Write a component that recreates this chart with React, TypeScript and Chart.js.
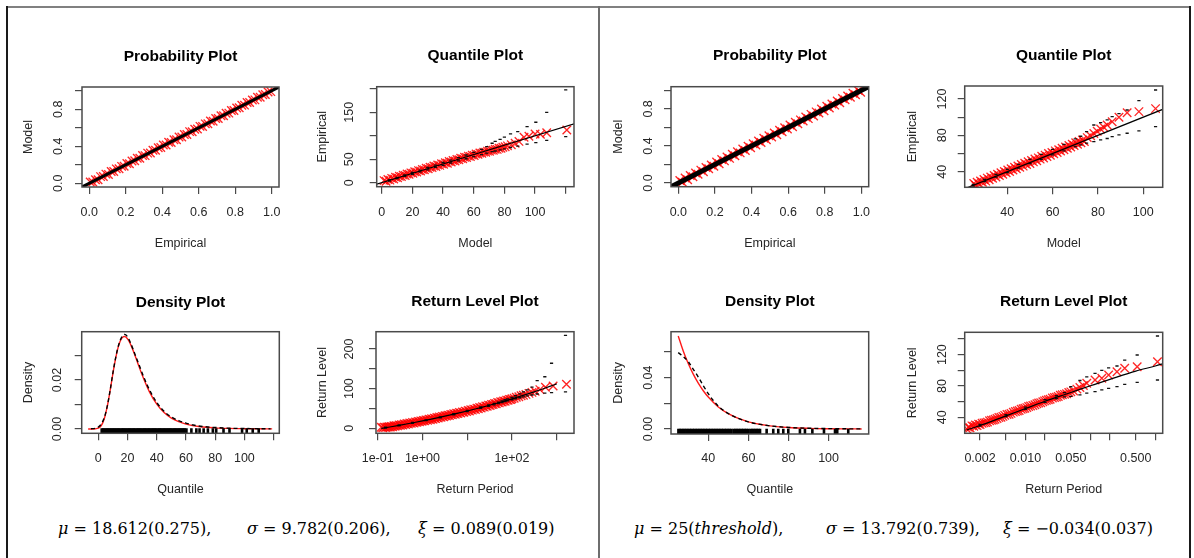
import React, { useEffect, useRef } from "react";
import { Chart, registerables } from "chart.js";

Chart.register(...registerables);

const SANS = "'Liberation Sans', Arial, Helvetica, sans-serif";
const TL = 7;
const RED = "rgba(255,0,0,0.85)";
const AXIS = "#4a4a4a";
const TXT = "#262626";
const TITLE_SIZE = 15.5;
const TICK_SIZE = 12.5;
const AXT_SIZE = 12.5;

// ================= GEV fit (left panel) =================
const probTicks = [0, 0.2, 0.4, 0.6, 0.8, 1.0];
const probXTickText = ["0.0", "0.2", "0.4", "0.6", "0.8", "1.0"];
const probYTickText = ["0.0", "", "0.4", "", "0.8", ""];
const probLine = [-0.05, 1.05];

const gevProbEmpirical = [0.005, 0.019, 0.034, 0.048, 0.062, 0.077, 0.091, 0.105, 0.120, 0.134, 0.148, 0.163, 0.177, 0.191, 0.206, 0.220, 0.234, 0.249, 0.263, 0.277, 0.292, 0.306, 0.320, 0.335, 0.349, 0.363, 0.378, 0.392, 0.406, 0.421, 0.435, 0.449, 0.464, 0.478, 0.492, 0.507, 0.521, 0.535, 0.550, 0.564, 0.578, 0.593, 0.607, 0.621, 0.636, 0.650, 0.664, 0.679, 0.693, 0.707, 0.722, 0.736, 0.750, 0.765, 0.779, 0.793, 0.808, 0.822, 0.836, 0.851, 0.865, 0.879, 0.894, 0.908, 0.922, 0.937, 0.951, 0.965, 0.980, 0.995];
const gevProbModel = [0.013, 0.013, 0.038, 0.039, 0.072, 0.074, 0.099, 0.096, 0.128, 0.128, 0.156, 0.157, 0.183, 0.184, 0.214, 0.212, 0.240, 0.243, 0.271, 0.270, 0.300, 0.299, 0.326, 0.328, 0.357, 0.356, 0.384, 0.386, 0.413, 0.414, 0.443, 0.441, 0.470, 0.471, 0.500, 0.500, 0.528, 0.528, 0.558, 0.557, 0.584, 0.586, 0.615, 0.614, 0.642, 0.643, 0.672, 0.671, 0.699, 0.700, 0.729, 0.729, 0.756, 0.758, 0.787, 0.786, 0.814, 0.815, 0.843, 0.844, 0.873, 0.872, 0.900, 0.901, 0.930, 0.930, 0.957, 0.958, 0.986, 0.990];

const gevQqXTicks = [0, 20, 40, 60, 80, 100, 120];
const gevQqXTickText = ["0", "20", "40", "60", "80", "100", ""];
const gevQqYTicks = [0, 50, 100, 150, 200];
const gevQqYTickText = ["0", "50", "", "150", ""];
const gevQqLine = [-5, 130];
const gevQqModel = [1.5, 2.8, 4.0, 5.3, 6.5, 7.8, 9.0, 10.3, 11.5, 12.8, 14.0, 15.3, 16.5, 17.8, 19.0, 20.3, 21.5, 22.8, 24.0, 25.3, 26.5, 27.8, 29.0, 30.3, 31.5, 32.8, 34.0, 35.3, 36.5, 37.8, 39.0, 40.3, 41.5, 42.8, 44.0, 45.3, 46.5, 47.8, 49.0, 50.3, 51.5, 52.8, 54.0, 55.3, 56.5, 57.8, 59.0, 60.3, 61.5, 62.8, 64.0, 65.3, 66.5, 67.8, 69.0, 70.3, 71.5, 72.8, 74.0, 75.3, 76.5, 77.8, 79.0, 80.5, 82, 84.5, 87, 89.5, 92.8, 96, 100, 103.5, 107.6, 120.7];
const gevQqEmpirical = [4.5, 3.0, 6.8, 5.5, 9.2, 8.0, 11.5, 10.6, 13.8, 13.0, 16.1, 15.4, 18.5, 17.9, 21.0, 20.2, 23.4, 22.6, 25.8, 25.0, 28.2, 27.4, 30.6, 29.8, 33.0, 32.2, 35.4, 34.5, 37.8, 36.9, 40.2, 39.2, 42.6, 41.6, 45.0, 44.0, 47.3, 46.4, 49.6, 48.8, 52.0, 51.1, 54.2, 53.5, 56.6, 55.8, 58.8, 58.1, 61.0, 60.4, 63.2, 62.6, 65.2, 64.8, 67.3, 66.9, 69.4, 69.0, 71.4, 71.0, 73.4, 73.2, 75.5, 76.5, 78.5, 81, 84, 88, 96.8, 99, 103.8, 103, 106.6, 112.4];
const gevQqCiModel = [5, 10, 15, 20, 25, 30, 35, 40, 45, 50, 55, 60, 65, 68.5, 72, 74, 77.2, 80, 84, 88.7, 94.8, 100.5, 107.6, 120];
const gevQqUpper = [6.5, 11.5, 16.5, 22, 27, 32.5, 37.5, 43, 48, 53.5, 59, 64.5, 71, 76.8, 84, 88, 92.3, 97, 104, 108.8, 119.5, 128.8, 150, 197.6];
const gevQqLower = [3.5, 8.5, 13.5, 18, 23, 27.5, 32.5, 37, 42, 46.5, 51, 55.5, 60, 63, 66, 67.5, 70, 72, 75, 78, 82, 85.4, 90, 98];

const gevDensXTicks = [0, 20, 40, 60, 80, 100, 120];
const gevDensXTickText = ["0", "20", "40", "60", "80", "100", ""];
const gevDensYTicks = [0, 0.01, 0.02, 0.03];
const gevDensYTickText = ["0.00", "", "0.02", ""];
const gevDensX = [-7, -3, 0, 1.5, 3, 4.5, 6, 7.5, 9, 10.5, 12, 13.5, 15, 16.5, 18, 19.5, 21, 24, 27, 30, 35, 40, 45, 50, 55, 60, 70, 80, 90, 100, 110, 119];
const gevDensModel = [0, 0.00001, 0.00032, 0.0010, 0.00248, 0.00508, 0.00889, 0.01373, 0.01912, 0.02450, 0.02932, 0.03319, 0.03589, 0.03738, 0.03775, 0.03716, 0.03583, 0.03175, 0.02684, 0.02199, 0.01513, 0.01013, 0.00672, 0.00446, 0.00297, 0.00199, 0.00092, 0.000445, 0.000223, 0.000115, 0.00006, 0.00003];
const gevDensEmpX = [-5, -2, 0, 2, 4, 6, 8, 10, 12, 14, 16, 18, 20, 22, 24, 26, 28, 30, 33, 36, 40, 45, 50, 55, 60, 65, 70, 75, 80, 90, 100, 110, 118];
const gevDensEmp = [0.0001, 0.0003, 0.0008, 0.002, 0.0045, 0.009, 0.0155, 0.023, 0.0295, 0.0345, 0.0375, 0.0386, 0.0376, 0.0352, 0.0322, 0.029, 0.026, 0.0228, 0.0185, 0.0148, 0.0108, 0.0072, 0.0049, 0.0034, 0.0024, 0.0016, 0.0011, 0.0008, 0.0006, 0.0003, 0.0002, 0.0001, 0.00005];
const gevRug = [2.3, 3.2, 4.0, 4.9, 5.7, 6.6, 7.5, 8.3, 9.1, 10.0, 10.9, 11.7, 12.5, 13.4, 14.2, 15.1, 16.0, 16.8, 17.6, 18.5, 19.3, 20.2, 21.1, 21.9, 22.7, 23.6, 24.4, 25.3, 26.2, 27.0, 27.8, 28.7, 29.5, 30.4, 31.3, 32.1, 32.9, 33.8, 34.6, 35.5, 36.4, 37.2, 38.0, 38.9, 39.7, 40.6, 41.5, 42.3, 43.1, 44.0, 44.8, 45.7, 46.6, 47.4, 48.2, 49.1, 49.9, 50.8, 51.7, 52.5, 53.3, 54.2, 55.0, 55.9, 56.8, 57.6, 58.4, 59.1, 60.3, 63.7, 67.1, 69.3, 72.1, 75.0, 78.4, 80.7, 85.7, 89.8, 98.4, 101.6, 105.7, 109.8];
const gevRugLevel = -0.00087;

const gevRlXTicks = [0.1, 1, 10, 100, 1000];
const gevRlXTickText = ["1e-01", "1e+00", "", "1e+02", ""];
const gevRlYTicks = [0, 50, 100, 150, 200];
const gevRlYTickText = ["0", "", "100", "", "200"];
const gevRlPeriod = [0.12, 0.16, 0.2, 0.3, 0.5, 0.7, 1, 1.4, 2, 3, 5, 7, 10, 15, 20, 30, 50, 70, 100, 150, 200, 300, 500, 700, 1000];
const gevRlLevel = [-0.3, 2.07, 3.94, 7.44, 12.04, 15.18, 18.61, 21.95, 25.6, 29.9, 35.54, 39.39, 43.61, 48.57, 52.18, 57.47, 64.39, 69.12, 74.29, 80.38, 84.83, 91.31, 99.8, 105.6, 111.96];
const gevRlEmpPeriod = [0.12, 0.13, 0.14, 0.15, 0.16, 0.17, 0.18, 0.19, 0.2, 0.215, 0.23, 0.245, 0.26, 0.28, 0.3, 0.32, 0.34, 0.365, 0.39, 0.42, 0.45, 0.485, 0.52, 0.56, 0.6, 0.65, 0.7, 0.75, 0.8, 0.86, 0.92, 0.98, 1.05, 1.12, 1.2, 1.3, 1.4, 1.5, 1.6, 1.72, 1.85, 1.97, 2.1, 2.25, 2.4, 2.6, 2.8, 3.0, 3.2, 3.45, 3.7, 4.0, 4.3, 4.65, 5, 5.4, 5.8, 6.2, 6.7, 7.2, 7.8, 8.4, 9, 9.7, 10.5, 11.2, 12, 13, 14, 15.2, 16.5, 17.7, 19, 20.5, 22, 24, 26, 28, 30, 32.5, 35, 38, 41, 44.5, 48, 52, 56, 60.5, 65, 70.5, 76, 82, 88, 94, 100, 112, 125, 142, 160, 180, 205, 240, 280, 330, 420, 560, 830, 1650];
const gevRlEmpLevel = [2.5, 1.2, 3.0, 1.9, 3.2, 3.0, 4.0, 2.9, 4.6, 4.0, 6.2, 5.0, 6.8, 6.1, 8.4, 7.4, 9.3, 8.2, 10.7, 9.6, 11.9, 10.9, 13.3, 12.4, 14.6, 13.6, 16.1, 15.0, 17.3, 16.4, 18.7, 17.5, 19.9, 18.9, 21.3, 20.5, 22.7, 21.4, 24.2, 22.9, 25.5, 24.4, 27.0, 25.9, 28.3, 27.8, 30.1, 29.2, 31.5, 30.8, 33.1, 32.5, 34.6, 34.1, 36.5, 35.6, 37.9, 37.1, 39.8, 38.7, 41.3, 40.4, 43.3, 42.1, 45.0, 43.8, 46.7, 45.8, 48.4, 47.5, 50.7, 49.3, 52.3, 51.4, 54.3, 53.4, 56.4, 55.6, 58.4, 57.6, 60.2, 59.9, 62.5, 62.0, 64.8, 64.1, 66.8, 66.4, 68.9, 68.4, 71.0, 70.5, 72.9, 72.4, 74.5, 75.8, 78.5, 79.6, 82, 83.4, 85.5, 88, 90.5, 93.5, 97.5, 103.5, 106.5, 111];
const gevRlCiPeriod = [0.15, 0.3, 0.6, 1.2, 2.5, 5, 10, 20, 30, 40, 50, 60, 70, 80, 100, 120, 150, 180, 220, 280, 366, 542, 766, 1570];
const gevRlUpper = [2.8, 8.8, 15, 21.4, 28.8, 36.8, 45, 54, 59, 63, 66, 69, 72, 74, 78, 82, 87, 92, 97, 104, 120, 130, 164, 234];
const gevRlLower = [0.6, 6.4, 12.4, 19.4, 26.6, 34.2, 42.2, 50.5, 55.5, 59, 62, 64.5, 67, 69, 72, 74.5, 77, 79, 81.5, 84, 86.5, 88.5, 90, 92];

// ================= GP fit (right panel) =================
const gpProbEmpirical = [0.008, 0.022, 0.037, 0.051, 0.065, 0.080, 0.094, 0.108, 0.123, 0.137, 0.151, 0.166, 0.180, 0.194, 0.209, 0.223, 0.237, 0.252, 0.266, 0.280, 0.295, 0.309, 0.323, 0.338, 0.352, 0.366, 0.381, 0.395, 0.409, 0.424, 0.438, 0.452, 0.467, 0.481, 0.495, 0.510, 0.524, 0.538, 0.553, 0.567, 0.581, 0.596, 0.610, 0.624, 0.639, 0.653, 0.667, 0.682, 0.696, 0.710, 0.725, 0.739, 0.753, 0.768, 0.782, 0.796, 0.811, 0.825, 0.839, 0.854, 0.868, 0.882, 0.897, 0.911, 0.925, 0.940, 0.954, 0.968, 0.983, 0.996];
const gpProbModel = [0.026, 0.008, 0.053, 0.035, 0.081, 0.067, 0.108, 0.094, 0.139, 0.121, 0.167, 0.153, 0.194, 0.180, 0.226, 0.208, 0.253, 0.239, 0.281, 0.266, 0.311, 0.294, 0.337, 0.325, 0.368, 0.350, 0.398, 0.381, 0.424, 0.411, 0.454, 0.437, 0.484, 0.467, 0.510, 0.497, 0.540, 0.522, 0.570, 0.553, 0.596, 0.583, 0.626, 0.608, 0.656, 0.639, 0.682, 0.669, 0.713, 0.695, 0.741, 0.724, 0.768, 0.755, 0.799, 0.781, 0.828, 0.810, 0.854, 0.841, 0.885, 0.867, 0.913, 0.898, 0.940, 0.927, 0.970, 0.953, 0.999, 0.981];

const gpQqXTicks = [40, 60, 80, 100];
const gpQqXTickText = ["40", "60", "80", "100"];
const gpQqYTicks = [40, 60, 80, 100, 120];
const gpQqYTickText = ["40", "", "80", "", "120"];
const gpQqLine = [20, 110];
const gpQqModel = [25.2, 26.0, 26.7, 27.5, 28.2, 29.0, 29.7, 30.5, 31.2, 32.0, 32.7, 33.5, 34.2, 35.0, 35.7, 36.5, 37.2, 38.0, 38.7, 39.5, 40.2, 41.0, 41.7, 42.5, 43.2, 44.0, 44.7, 45.5, 46.2, 47.0, 47.7, 48.5, 49.2, 50.0, 50.7, 51.5, 52.2, 53.0, 53.7, 54.5, 55.2, 56.0, 56.7, 57.5, 58.2, 59.0, 59.7, 60.5, 61.2, 62.0, 62.7, 63.5, 64.2, 65.0, 65.7, 66.5, 67.2, 68.0, 68.7, 69.5, 70.2, 71.0, 71.7, 72.5, 73.2, 74.0, 75.3, 76.8, 78.2, 79.7, 81.2, 82.6, 84.1, 86.3, 89.3, 92.9, 98.1, 105.45];
const gpQqEmpirical = [26.9, 25.1, 28.4, 26.6, 29.7, 28.3, 31.4, 29.6, 32.9, 31.1, 34.2, 32.8, 35.9, 34.1, 37.2, 35.8, 38.9, 37.1, 40.2, 38.8, 41.9, 40.1, 43.2, 41.8, 44.9, 43.1, 46.2, 44.8, 47.9, 46.1, 49.2, 47.8, 50.9, 49.1, 52.2, 50.8, 53.9, 52.1, 55.2, 53.8, 56.9, 55.1, 58.2, 56.8, 59.9, 58.1, 61.2, 59.8, 62.9, 61.1, 64.2, 62.8, 65.9, 64.1, 67.2, 65.8, 68.9, 67.1, 70.2, 68.8, 71.9, 70.1, 73.2, 71.8, 74.9, 73.1, 77.5, 79.5, 82, 84.5, 87, 89, 91.4, 95, 99.9, 104.9, 106.1, 109.4];
const gpQqCiModel = [25, 30, 35, 40, 45, 50, 55, 60, 65, 70, 72.4, 75, 78.2, 81.2, 84.1, 86.3, 89.3, 92.9, 98.1, 105.45];
const gpQqUpper = [26, 31.5, 37, 42.5, 48, 53.5, 59, 64.5, 70, 76, 79, 84, 91.4, 94, 97, 100.5, 104, 107.9, 118.2, 129.9];
const gpQqLower = [24, 29, 34, 39, 44, 49, 53.5, 58.5, 63, 67.5, 69.5, 71.5, 73, 74.9, 76.5, 78.5, 80.5, 82.3, 84.8, 89.5];

const gpDensXTicks = [40, 60, 80, 100];
const gpDensXTickText = ["40", "60", "80", "100"];
const gpDensYTicks = [0, 0.02, 0.04, 0.06];
const gpDensYTickText = ["0.00", "", "0.04", ""];
const gpDensX = [25, 27.5, 30, 32.5, 35, 37.5, 40, 45, 50, 55, 60, 70, 80, 90, 100, 110, 116.5];
const gpDensModel = [0.0725, 0.0608, 0.0510, 0.0427, 0.0357, 0.0298, 0.0249, 0.0172, 0.0119, 0.0082, 0.0056, 0.0026, 0.00116, 0.00051, 0.00022, 0.00009, 0.00005];
const gpDensEmpX = [25, 27.5, 30, 32.5, 35, 37.5, 40, 42.5, 45, 50, 55, 60, 65, 70, 75, 80, 90, 100, 110, 116.5];
const gpDensEmp = [0.0595, 0.0565, 0.0525, 0.0465, 0.0405, 0.0338, 0.0275, 0.0222, 0.0178, 0.0120, 0.0082, 0.0055, 0.0038, 0.0026, 0.0018, 0.0012, 0.0006, 0.0003, 0.00012, 0.00006];
const gpRug = [25.1, 25.9, 26.6, 27.5, 28.2, 29.1, 29.8, 30.7, 31.4, 32.3, 33.0, 33.9, 34.6, 35.5, 36.2, 37.1, 37.8, 38.7, 39.4, 40.3, 41.0, 41.9, 42.6, 43.5, 44.2, 45.1, 45.8, 46.7, 47.4, 48.3, 49.0, 49.9, 50.6, 51.5, 52.6, 53.5, 54.2, 55.1, 55.8, 56.7, 57.4, 58.3, 59.0, 59.9, 61.0, 61.9, 62.6, 63.5, 64.2, 65.0, 65.8, 69.1, 72.4, 74.9, 77.4, 79.9, 85.7, 88.2, 91.9, 97.7, 103.2, 104.3, 109.8];
const gpRugLevel = -0.00195;

const gpRlXTicks = [0.002, 0.005, 0.01, 0.02, 0.05, 0.1, 0.2, 0.5, 1];
const gpRlXTickText = ["0.002", "", "0.010", "", "0.050", "", "", "0.500", ""];
const gpRlYTicks = [40, 60, 80, 100, 120, 140];
const gpRlYTickText = ["40", "", "80", "", "120", ""];
const gpRlPeriod = [0.00125, 0.002, 0.005, 0.01, 0.02, 0.05, 0.1, 0.2, 0.5, 1, 1.4];
const gpRlLevel = [23.8, 29.5, 41.9, 51.2, 60.5, 71.6, 80.3, 88.5, 99.0, 105.5, 109.0];
const gpRlEmpPeriod = [0.00125, 0.00132, 0.0014, 0.0015, 0.0016, 0.0017, 0.0018, 0.0019, 0.002, 0.00215, 0.0023, 0.00245, 0.0026, 0.0028, 0.003, 0.0032, 0.0034, 0.00365, 0.0039, 0.0042, 0.0045, 0.0048, 0.0052, 0.0056, 0.006, 0.0065, 0.007, 0.0075, 0.008, 0.0086, 0.0092, 0.0098, 0.0105, 0.0112, 0.012, 0.013, 0.014, 0.015, 0.016, 0.0172, 0.0185, 0.0197, 0.021, 0.0225, 0.024, 0.026, 0.028, 0.030, 0.032, 0.0345, 0.037, 0.040, 0.043, 0.0465, 0.05, 0.055, 0.062, 0.069, 0.078, 0.088, 0.118, 0.150, 0.191, 0.257, 0.338, 0.526, 1.08];
const gpRlEmpLevel = [25.2, 27.4, 26.8, 29.1, 28.6, 30.1, 29.4, 31.3, 30.8, 32.4, 32.9, 33.2, 33.9, 35.6, 36.3, 36.5, 37.6, 38.6, 39.8, 40.1, 41.2, 42.5, 43.5, 44.0, 45.0, 46.6, 47.4, 48.0, 48.8, 50.4, 51.0, 51.6, 52.4, 53.8, 54.5, 55.2, 56.1, 57.3, 58.3, 58.6, 59.8, 61.0, 61.9, 62.3, 63.0, 64.6, 65.2, 65.8, 66.5, 68.1, 68.8, 69.3, 70.0, 71.6, 72.5, 73.5, 76, 78, 80.6, 83.4, 87.6, 89.8, 94, 98.2, 102.6, 104.6, 111];
const gpRlCiPeriod = [0.002, 0.005, 0.01, 0.02, 0.03, 0.04, 0.05, 0.069, 0.088, 0.118, 0.150, 0.191, 0.257, 0.338, 0.526, 1.08];
const gpRlUpper = [31, 43.5, 53, 62.5, 67.5, 71.5, 79, 87, 91.5, 96, 100, 103, 105.5, 113, 119.5, 143.8];
const gpRlLower = [28.8, 41, 50.2, 59, 63.8, 66, 66.6, 68.7, 70.8, 72.9, 75, 77, 79.1, 82.1, 84.7, 87.6];

// ================= helpers =================
const pts = (xs: number[], ys: number[]) => xs.map((x, i) => ({ x, y: ys[i] }));

const redCross = (xs: number[], ys: number[]) => ({
  data: pts(xs, ys), showLine: false, pointStyle: "crossRot", pointRadius: 6,
  pointBorderColor: RED, pointBorderWidth: 1.35, pointBackgroundColor: "rgba(0,0,0,0)", borderColor: RED, order: 3,
});
const ciDots = (xs: number[], ys: number[]) => ({
  data: pts(xs, ys), showLine: false, pointStyle: "line", pointRadius: 1.6,
  pointBorderColor: "#111", pointBorderWidth: 1.3, borderColor: "#111", order: 2,
});
const curve = (xs: number[], ys: number[], color: string, width: number, dash: number[] = [], order = 1) => ({
  data: pts(xs, ys), showLine: true, pointRadius: 0, borderColor: color, borderWidth: width,
  borderDash: dash, cubicInterpolationMode: "monotone", fill: false, order,
});
const rug = (xs: number[], level: number) => ({
  data: xs.map((x) => ({ x, y: level })), showLine: false, pointStyle: "line", pointRotation: 90,
  pointRadius: 2.8, pointBorderColor: "#000", pointBorderWidth: 2.6, borderColor: "#000", order: 0,
});

type Spec = {
  box: [number, number, number, number];
  titleCY: number; yTitleCX: number; yLabelCX: number; xLabelCY: number; xTitleCY: number;
  title: string; xTitle: string; yTitle: string; xType: string;
  xRange: [number, number]; yRange: [number, number];
  xTicks: number[]; xTickText: string[]; yTicks: number[]; yTickText: string[];
  datasets: any[];
};

const SPECS: Spec[] = [
  {
    box: [82, 87, 279, 187], titleCY: 57, yTitleCX: 28.3, yLabelCX: 58.3, xLabelCY: 212.7, xTitleCY: 243.3,
    title: "Probability Plot", xTitle: "Empirical", yTitle: "Model", xType: "linear",
    xRange: [-0.04, 1.04], yRange: [-0.04, 1.04],
    xTicks: probTicks, xTickText: probXTickText, yTicks: probTicks, yTickText: probYTickText,
    datasets: [curve(probLine, probLine, "#000", 3), redCross(gevProbEmpirical, gevProbModel)],
  },
  {
    box: [376.7, 86.7, 574, 186.7], titleCY: 56, yTitleCX: 322.7, yLabelCX: 350, xLabelCY: 212.7, xTitleCY: 243.3,
    title: "Quantile Plot", xTitle: "Model", yTitle: "Empirical", xType: "linear",
    xRange: [-3.3, 125.4], yRange: [-8.5, 204.5],
    xTicks: gevQqXTicks, xTickText: gevQqXTickText, yTicks: gevQqYTicks, yTickText: gevQqYTickText,
    datasets: [
      curve(gevQqLine, gevQqLine, "#000", 1.2),
      ciDots(gevQqCiModel, gevQqUpper), ciDots(gevQqCiModel, gevQqLower),
      redCross(gevQqModel, gevQqEmpirical),
    ],
  },
  {
    box: [81.7, 331.7, 279.3, 433.3], titleCY: 302.7, yTitleCX: 28.3, yLabelCX: 57.3, xLabelCY: 458.3, xTitleCY: 489.3,
    title: "Density Plot", xTitle: "Quantile", yTitle: "Density", xType: "linear",
    xRange: [-11.4, 123.9], yRange: [-0.00177, 0.0397],
    xTicks: gevDensXTicks, xTickText: gevDensXTickText, yTicks: gevDensYTicks, yTickText: gevDensYTickText,
    datasets: [
      rug(gevRug, gevRugLevel),
      curve(gevDensEmpX, gevDensEmp, "#000", 1.4, [4, 3], 1),
      curve(gevDensX, gevDensModel, "#ff1a1a", 1.4, [], 2),
    ],
  },
  {
    box: [376, 331.7, 574, 433.3], titleCY: 301.7, yTitleCX: 322.7, yLabelCX: 350, xLabelCY: 458.3, xTitleCY: 489.3,
    title: "Return Level Plot", xTitle: "Return Period", yTitle: "Return Level", xType: "logarithmic",
    xRange: [0.0916, 2432], yRange: [-12.6, 243.5],
    xTicks: gevRlXTicks, xTickText: gevRlXTickText, yTicks: gevRlYTicks, yTickText: gevRlYTickText,
    datasets: [
      curve(gevRlPeriod, gevRlLevel, "#000", 1.2),
      ciDots(gevRlCiPeriod, gevRlUpper), ciDots(gevRlCiPeriod, gevRlLower),
      redCross(gevRlEmpPeriod, gevRlEmpLevel),
    ],
  },
  {
    box: [671, 86.7, 868.7, 186.7], titleCY: 56, yTitleCX: 618.3, yLabelCX: 648.3, xLabelCY: 212.7, xTitleCY: 243.3,
    title: "Probability Plot", xTitle: "Empirical", yTitle: "Model", xType: "linear",
    xRange: [-0.04, 1.04], yRange: [-0.04, 1.04],
    xTicks: probTicks, xTickText: probXTickText, yTicks: probTicks, yTickText: probYTickText,
    datasets: [curve(probLine, probLine, "#000", 5), redCross(gpProbEmpirical, gpProbModel)],
  },
  {
    box: [964.7, 86, 1162.7, 187.3], titleCY: 56, yTitleCX: 912.3, yLabelCX: 942.3, xLabelCY: 212.7, xTitleCY: 243.3,
    title: "Quantile Plot", xTitle: "Model", yTitle: "Empirical", xType: "linear",
    xRange: [21.2, 108.6], yRange: [22.8, 134.3],
    xTicks: gpQqXTicks, xTickText: gpQqXTickText, yTicks: gpQqYTicks, yTickText: gpQqYTickText,
    datasets: [
      curve(gpQqLine, gpQqLine, "#000", 1.2),
      ciDots(gpQqCiModel, gpQqUpper), ciDots(gpQqCiModel, gpQqLower),
      redCross(gpQqModel, gpQqEmpirical),
    ],
  },
  {
    box: [671, 331.7, 868.7, 434], titleCY: 301.7, yTitleCX: 618.3, yLabelCX: 648.3, xLabelCY: 458.3, xTitleCY: 489.3,
    title: "Density Plot", xTitle: "Quantile", yTitle: "Density", xType: "linear",
    xRange: [21.4, 120], yRange: [-0.0039, 0.0758],
    xTicks: gpDensXTicks, xTickText: gpDensXTickText, yTicks: gpDensYTicks, yTickText: gpDensYTickText,
    datasets: [
      rug(gpRug, gpRugLevel),
      curve(gpDensEmpX, gpDensEmp, "#000", 1.4, [4, 3], 1),
      curve(gpDensX, gpDensModel, "#ff1a1a", 1.4, [], 2),
    ],
  },
  {
    box: [964.7, 332.3, 1162.7, 433.3], titleCY: 301.7, yTitleCX: 912.3, yLabelCX: 942.3, xLabelCY: 458.3, xTitleCY: 489.3,
    title: "Return Level Plot", xTitle: "Return Period", yTitle: "Return Level", xType: "logarithmic",
    xRange: [0.00116, 1.3], yRange: [19.6, 148.5],
    xTicks: gpRlXTicks, xTickText: gpRlXTickText, yTicks: gpRlYTicks, yTickText: gpRlYTickText,
    datasets: [
      curve(gpRlPeriod, gpRlLevel, "#000", 1.2),
      ciDots(gpRlCiPeriod, gpRlUpper), ciDots(gpRlCiPeriod, gpRlLower),
      redCross(gpRlEmpPeriod, gpRlEmpLevel),
    ],
  },
];

const TITLE_HALF = (TITLE_SIZE * 1.2) / 2;
const TICK_HALF = (TICK_SIZE * 1.2) / 2;
const AXT_HALF = (AXT_SIZE * 1.2) / 2;

function geometry(s: Spec) {
  const [l, t, r, b] = s.box;
  const left = Math.floor(s.yTitleCX - 12);
  const top = Math.floor(s.titleCY - 22);
  const right = Math.ceil(r + 14);
  const bottom = Math.ceil(s.xTitleCY + 12);
  return {
    left, top, w: right - left, h: bottom - top,
    yW: l - left, padRight: right - r, xH: bottom - b,
    titlePadTop: s.titleCY - top - TITLE_HALF, titlePadBottom: t - s.titleCY - TITLE_HALF,
    yTitlePad: s.yTitleCX - left - AXT_HALF, xTitlePad: bottom - s.xTitleCY - AXT_HALF,
    xTickPad: s.xLabelCY - b - TL - TICK_HALF,
  };
}

const boxPlugin = {
  id: "rbox",
  afterDatasetsDraw(chart: any) {
    const { ctx, chartArea: a } = chart;
    ctx.save();
    ctx.strokeStyle = AXIS;
    ctx.lineWidth = 1.5;
    ctx.strokeRect(a.left, a.top, a.right - a.left, a.bottom - a.top);
    ctx.restore();
  },
};

function widest(labels: string[]) {
  const c = document.createElement("canvas").getContext("2d");
  if (!c) return 20;
  c.font = `${TICK_SIZE}px ${SANS}`;
  return Math.max(0, ...labels.map((x) => c.measureText(x).width));
}

function Plot({ spec }: { spec: Spec }) {
  const ref = useRef<HTMLCanvasElement | null>(null);
  const g = geometry(spec);
  useEffect(() => {
    if (!ref.current) return;
    const yPad = spec.box[0] - spec.yLabelCX - TL - widest(spec.yTickText) / 2;
    const tickFont = { family: SANS, size: TICK_SIZE };
    const titleFont = { family: SANS, size: AXT_SIZE };
    const grid = {
      display: true, drawOnChartArea: false, drawTicks: true, tickLength: TL,
      tickColor: AXIS, tickWidth: 1.2, color: AXIS, lineWidth: 1.2,
    };
    const chart = new Chart(ref.current, {
      type: "scatter",
      data: { datasets: spec.datasets },
      options: {
        responsive: false,
        animation: false,
        events: [],
        layout: { autoPadding: false, padding: { left: 0, top: 0, right: g.padRight, bottom: 0 } },
        plugins: {
          legend: { display: false },
          tooltip: { enabled: false },
          title: {
            display: true, text: spec.title, fullSize: false, color: "#000",
            font: { family: SANS, size: TITLE_SIZE, weight: "bold", lineHeight: 1.2 },
            padding: { top: g.titlePadTop, bottom: g.titlePadBottom },
          },
        },
        scales: {
          x: {
            type: spec.xType, position: "bottom", min: spec.xRange[0], max: spec.xRange[1], bounds: "data",
            afterBuildTicks: (sc: any) => { sc.ticks = spec.xTicks.map((v) => ({ value: v })); },
            afterFit: (sc: any) => { sc.height = g.xH; },
            ticks: {
              autoSkip: false, maxRotation: 0, minRotation: 0, padding: g.xTickPad, font: tickFont, color: TXT,
              callback: (_v: any, i: number) => spec.xTickText[i] ?? "",
            },
            grid, border: { display: false },
            title: { display: true, text: spec.xTitle, font: titleFont, color: TXT, padding: { top: 0, bottom: g.xTitlePad } },
          },
          y: {
            type: "linear", position: "left", min: spec.yRange[0], max: spec.yRange[1], bounds: "data",
            afterBuildTicks: (sc: any) => { sc.ticks = spec.yTicks.map((v) => ({ value: v })); },
            afterFit: (sc: any) => { sc.width = g.yW; },
            ticks: {
              autoSkip: false, minRotation: 90, maxRotation: 90, crossAlign: "center", padding: yPad,
              font: tickFont, color: TXT,
              callback: (_v: any, i: number) => spec.yTickText[i] ?? "",
            },
            grid, border: { display: false },
            title: { display: true, text: spec.yTitle, font: titleFont, color: TXT, padding: { top: g.yTitlePad, bottom: 0 } },
          },
        },
      } as any,
      plugins: [boxPlugin],
    } as any);
    return () => chart.destroy();
  }, []);
  return (
    <canvas
      ref={ref}
      width={g.w}
      height={g.h}
      style={{ position: "absolute", left: g.left, top: g.top, width: g.w, height: g.h }}
    />
  );
}

const MATH: React.CSSProperties = {
  position: "absolute", top: 519, font: "16px 'DejaVu Serif', 'Liberation Serif', serif",
  color: "#000", whiteSpace: "pre", lineHeight: "19px",
};

export default function App() {
  return (
    <div style={{ position: "absolute", left: 0, top: 0, width: 1194, height: 558, overflow: "hidden", background: "#fff" }}>
      <div style={{ position: "absolute", left: 6, top: 6, width: 1185, height: 2, background: "#808080" }} />
      <div style={{ position: "absolute", left: 6, top: 6, width: 2, height: 560, background: "#1a1a1a" }} />
      <div style={{ position: "absolute", left: 598, top: 6, width: 2, height: 560, background: "#6e6e6e" }} />
      <div style={{ position: "absolute", left: 1189, top: 6, width: 2, height: 560, background: "#1a1a1a" }} />
      {SPECS.map((s, i) => (
        <Plot key={i} spec={s} />
      ))}
      <div style={{ ...MATH, left: 58 }}><i>μ</i> = 18.612(0.275),</div>
      <div style={{ ...MATH, left: 247 }}><i>σ</i> = 9.782(0.206),</div>
      <div style={{ ...MATH, left: 418 }}><i>ξ</i> = 0.089(0.019)</div>
      <div style={{ ...MATH, left: 634 }}><i>μ</i> = 25(<i>threshold</i>),</div>
      <div style={{ ...MATH, left: 826 }}><i>σ</i> = 13.792(0.739),</div>
      <div style={{ ...MATH, left: 1003 }}><i>ξ</i> = −0.034(0.037)</div>
    </div>
  );
}
